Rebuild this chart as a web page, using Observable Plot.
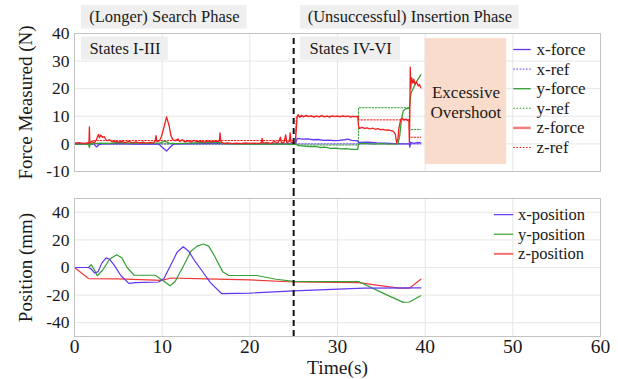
<!DOCTYPE html>
<html>
<head>
<meta charset="utf-8">
<script src="https://cdn.jsdelivr.net/npm/d3@7"></script>
<script src="https://cdn.jsdelivr.net/npm/@observablehq/plot@0.6"></script>
<style>
  html, body { margin: 0; padding: 0; background: #fff; }
  #wrap { position: relative; width: 618px; height: 379px; overflow: hidden; }
  #top, #bottom { position: absolute; left: 0; }
  #top { top: 0; }
  #bottom { top: 190px; }
  #wrap svg, #wrap svg text { font-family: 'Liberation Serif', 'Times New Roman', serif !important; }
</style>
</head>
<body>
<div id="wrap"><div id="top"></div><div id="bottom"></div></div>
<script>
// ---------- DATA (time in s, value) ----------
const xForce = [[0,0],[2.2,0],[2.5,-1.1],[2.8,-0.3],[3.2,0],[5,0.1],[7,-0.1],[9.6,0],[10.0,-1.2],[10.5,-2.6],[10.9,-1.2],[11.3,-0.1],[12,0],[16,0.1],[20,0],[25.2,0],
  [25.4,2.0],[26.0,1.7],[26.6,1.8],[27.2,1.5],[27.8,1.6],[28.4,1.3],[29,1.4],[29.6,1.2],[30.2,1.3],[30.8,1.5],[31.2,1.7],[31.6,1.3],[32.3,1.1],
  [32.4,0.5],[33.5,0.6],[34.5,0.4],[35.5,0.3],[36.5,0.1],[37.5,0],[38.2,0],[38.25,-1.2],[38.35,0.6],[38.7,0.2],[39.1,0.5],[39.5,0.4]];
const xRef = [[0,0],[39.5,0]];
const yForce = [[0,-0.2],[1.0,0],[1.6,-0.1],[1.7,-1.3],[1.8,0],[2.5,0.2],[3,0.3],[4,0.2],[5,0.5],[6,0.3],[7,0.4],[8,0.2],[9,0.3],[9.8,0.4],[10.3,1.0],[10.8,0.3],
  [11.5,0.1],[13,0.3],[15,0.5],[16.6,0.6],[16.8,0.1],[18,0],[20,-0.1],[22,0],[24,-0.1],[25.0,-0.2],[25.3,-0.1],[25.6,-0.6],[26.2,-0.8],[26.8,-1.0],[27.4,-0.9],
  [28.0,-1.3],[28.6,-1.2],[29.2,-1.6],[29.8,-1.5],[30.4,-1.8],[31.0,-1.7],[31.6,-2.0],[32.3,-2.0],[32.4,-0.2],[32.6,0.2],[33.4,0.1],[34.2,-0.1],[35,0.1],[35.8,-0.1],
  [36.9,0],[37.1,3],[37.3,9],[37.5,12.0],[37.8,12.7],[38.2,13.0],[38.3,16.5],[38.4,18.5],[38.7,20.5],[39.0,22.5],[39.3,24.0],[39.5,25.0]];
const yRef = [[0,0],[25.3,0],[25.3,-0.4],[32.4,-0.4],[32.4,13.1],[38.2,13.1],[38.2,5.2],[39.5,5.2]];
const zForce = [[0,0.3],[0.5,0.5],[1.0,0.2],[1.5,0.4],[1.65,0.3],[1.7,6.2],[1.75,0.5],[2.0,0.8],[2.3,0.5],[2.5,1.5],[2.65,2.8],[2.75,3.4],[2.85,2.2],[3.0,3.2],
  [3.2,2.4],[3.4,2.6],[3.6,1.4],[3.8,1.2],[4.0,1.5],[4.3,0.8],[4.6,1.0],[5.0,0.6],[5.4,0.9],[5.8,0.5],[6.2,0.9],[6.6,0.4],[7.0,0.7],[7.4,0.3],[7.8,0.6],[8.2,0.3],
  [8.6,0.5],[9.0,0.4],[9.2,1.0],[9.3,3.0],[9.4,0.8],[9.7,1.2],[9.9,2.5],[10.2,6.0],[10.5,9.8],[10.8,6.5],[11.0,3.0],[11.2,1.6],[11.5,1.2],[11.8,1.8],[12.0,0.9],
  [12.3,1.5],[12.6,0.7],[13.0,1.2],[13.3,0.6],[13.6,1.3],[14.0,0.8],[14.4,1.0],[14.8,0.6],[15.2,1.1],[15.6,0.7],[16.0,1.0],[16.4,0.9],[16.55,1.5],[16.6,4.0],
  [16.7,0.8],[17.0,0.2],[17.5,0.4],[18,0.1],[18.5,0.3],[19,0.1],[19.5,0.4],[20,0.2],[20.5,0.3],[21.0,0.2],[21.3,0.4],[21.4,2.0],[21.5,0.3],[22.0,0.5],[22.4,0.2],
  [22.8,0.8],[23.2,0.3],[23.5,2.4],[23.6,0.4],[23.9,0.6],[24.1,3.3],[24.2,0.5],[24.5,0.8],[24.6,4.0],[24.7,0.6],[25.0,0.4],[25.2,0.8],[25.4,9.8],[25.5,10.6],
  [25.7,9.6],[25.9,10.4],[26.1,9.8],[26.4,10.3],[26.7,9.9],[27.0,10.2],[27.3,9.7],[27.6,10.1],[27.9,9.8],[28.2,10.3],[28.5,9.8],[28.8,10.1],[29.1,9.7],[29.4,10.2],
  [29.7,9.9],[30.0,10.1],[30.3,9.8],[30.6,10.2],[30.9,9.9],[31.2,10.1],[31.5,9.7],[31.8,10.0],[32.1,9.8],[32.3,10.0],[32.4,6.5],[32.5,5.6],[32.8,6.0],[33.1,5.6],
  [33.4,5.8],[33.7,5.4],[34.0,5.7],[34.3,5.3],[34.6,5.5],[34.9,5.2],[35.2,5.3],[35.5,5.0],[35.8,5.1],[36.1,4.8],[36.4,4.5],[36.6,3.5],[36.75,0.3],[36.9,2.0],
  [37.0,5.5],[37.2,8.8],[37.4,9.3],[37.6,8.6],[37.8,9.0],[38.0,8.5],[38.15,8.8],[38.2,0.5],[38.25,10],[38.3,27.8],[38.35,20],[38.45,24],[38.6,22],[38.7,23.5],
  [38.85,21.5],[39.0,22.5],[39.2,21],[39.35,21.5],[39.5,20.3]];
const zRef = [[0,0],[2.0,0],[2.0,1.2],[25.2,1.2],[25.3,10],[32.4,10],[32.4,8.7],[38.2,8.7],[38.2,2.4],[39.5,2.4]];

const xPos = [[0,0],[1.6,0],[1.9,-1],[2.3,-4],[2.7,-3],[3.1,3],[3.6,7],[4.0,6],[4.6,1],[5.3,-6],[6.2,-11.5],[7,-11],[9.6,-10.5],[10.2,-8],[11,2],[11.7,11],
  [12.4,15],[13.0,12],[13.8,4],[14.5,-2],[15.5,-11],[16.8,-19],[20,-18.5],[25,-17],[33,-15],[39.5,-14.8]];
const yPos = [[0,0],[1.6,0],[1.9,2],[2.2,-1],[2.6,-6],[3.2,-2],[4.0,6],[4.8,9.2],[5.4,7],[6.0,0],[6.8,-5.6],[9.2,-5.6],[10.0,-9],[10.9,-13.3],[11.5,-10],
  [12.5,2],[13.3,12],[14.0,15.5],[14.7,17],[15.3,15.5],[16,8],[16.9,-3],[17.6,-5.8],[20.8,-5.8],[23,-8.5],[25,-10],[32.4,-10.2],[35,-18],[37.5,-25.3],[38.2,-25],[39.5,-20.5]];
const zPos = [[0,0],[1.6,-8],[5,-8.3],[10,-9.3],[11,-7.6],[15,-8.3],[20,-9],[25,-10.5],[32.4,-11],[37,-15],[38.2,-15],[39.5,-8.5]];

const forceTicks = [-10, 0, 10, 20, 30, 40];
const posTicks = [-40, -20, 0, 20, 40];
const timeTicks = [0, 10, 20, 30, 40, 50, 60];
const forceLegend = ["x-force", "x-ref", "y-force", "y-ref", "z-force", "z-ref"];
const posLegend = ["x-position", "y-position", "z-position"];
const phaseLabels = ["(Longer) Search Phase", "(Unsuccessful) Insertion Phase"];
const stateLabels = ["States I-III", "States IV-VI"];
const overshootLabel = "Excessive\nOvershoot";
const stateChange = 25;

// ---------- STYLE ----------
const BLUE = "#6236f2", GREEN = "#35a035", RED = "#f01e1e";
const FONT = "'Liberation Serif', 'Times New Roman', serif";
const GRID = "#e6e6e6";
const fx = d => d[0], fy = d => d[1];
const DOT = "1.6,1.6";
const TXT = {fontFamily: FONT, fill: "#1a1a1a"};
const fmt = d => String(d);

// ---------- TOP PANEL ----------
const legF = forceLegend.map((name, i) => ({name, y: 34.2 - i * 7.1, color: [BLUE, BLUE, GREEN, GREEN, RED, RED][i], dotted: i % 2 === 1}));
const topPlot = Plot.plot({
  width: 618, height: 190,
  marginLeft: 74, marginRight: 18, marginTop: 33, marginBottom: 19,
  x: {domain: [0, 60], axis: null},
  y: {domain: [-10, 40]},
  style: {fontFamily: FONT, background: "transparent", color: "#1a1a1a"},
  marks: [
    Plot.gridX(timeTicks.slice(1, -1), {stroke: GRID, strokeOpacity: 1}),
    Plot.gridY(forceTicks.slice(1, -1), {stroke: GRID, strokeOpacity: 1}),
    Plot.rect([0], {x1: 40, x2: 49.3, y1: -7.5, y2: 38.2, fill: "#f9dccb"}),
    Plot.text([overshootLabel], {...TXT, x: 44.65, y: 15.4, fontSize: 17, lineHeight: 1.2}),
    // phase & state boxes
    Plot.rect([0], {x1: 0.8, x2: 19.7, y1: 41.6, y2: 50.1, fill: "#efefef"}),
    Plot.rect([0], {x1: 25.8, x2: 50.7, y1: 41.6, y2: 50.1, fill: "#efefef"}),
    Plot.rect([0], {x1: 0.8, x2: 10.7, y1: 30.3, y2: 38.7, fill: "#efefef"}),
    Plot.rect([0], {x1: 25.8, x2: 37.2, y1: 30.3, y2: 38.7, fill: "#efefef"}),
    Plot.text(phaseLabels, {...TXT, x: [10.25, 38.25], y: 45.9, fontSize: 16.5}),
    Plot.text(stateLabels, {...TXT, x: [5.75, 31.5], y: 34.5, fontSize: 16.5}),
    // references
    Plot.line(xRef, {x: fx, y: fy, stroke: BLUE, strokeWidth: 1, strokeDasharray: DOT}),
    Plot.line(yRef, {x: fx, y: fy, stroke: GREEN, strokeWidth: 1, strokeDasharray: DOT}),
    Plot.line(zRef, {x: fx, y: fy, stroke: RED, strokeWidth: 1, strokeDasharray: DOT}),
    // forces
    Plot.line(xForce, {x: fx, y: fy, stroke: BLUE, strokeWidth: 1.3}),
    Plot.line(yForce, {x: fx, y: fy, stroke: GREEN, strokeWidth: 1.3}),
    Plot.line(zForce, {x: fx, y: fy, stroke: RED, strokeWidth: 1.3}),
    Plot.frame({stroke: "#c4c4c4"}),
    Plot.axisY(forceTicks, {tickSize: 0, tickPadding: 5, fontSize: 17.5, fontFamily: FONT, tickFormat: fmt, label: null}),
    Plot.text(["Force Measured (N)"], {...TXT, frameAnchor: "left", textAnchor: "middle", lineAnchor: "middle", dx: -49, rotate: -90, fontSize: 19}),
    // dashed state-change line
    Plot.ruleX([stateChange], {y1: 38.2, y2: -16.9, stroke: "#111", strokeWidth: 2, strokeDasharray: "6,4"}),
    // legend
    Plot.ruleY(legF.filter(d => !d.dotted), {y: "y", x1: 50.1, x2: 52.1, stroke: d => d.name === "z-force" ? "#f08080" : d.color, strokeWidth: d => d.name === "z-force" ? 2.5 : 1.3}),
    Plot.ruleY(legF.filter(d => d.dotted), {y: "y", x1: 50.1, x2: 52.1, stroke: "color", strokeWidth: 1, strokeDasharray: DOT}),
    Plot.text(legF, {...TXT, x: 52.7, y: "y", text: "name", textAnchor: "start", fontSize: 17})
  ]
});
document.getElementById("top").append(topPlot);

// ---------- BOTTOM PANEL ----------
const legP = posLegend.map((name, i) => ({name, y: 38.3 - i * 14.2, color: [BLUE, GREEN, "#f07070"][i]}));
const botPlot = Plot.plot({
  width: 618, height: 189,
  marginLeft: 74, marginRight: 18, marginTop: 8, marginBottom: 43,
  x: {domain: [0, 60]},
  y: {domain: [-50, 50]},
  style: {fontFamily: FONT, background: "transparent", color: "#1a1a1a"},
  marks: [
    Plot.gridX(timeTicks.slice(1, -1), {stroke: GRID, strokeOpacity: 1}),
    Plot.gridY(posTicks, {stroke: GRID, strokeOpacity: 1}),
    Plot.line(zPos, {x: fx, y: fy, stroke: "#f03838", strokeWidth: 1.2}),
    Plot.line(yPos, {x: fx, y: fy, stroke: GREEN, strokeWidth: 1.2}),
    Plot.line(xPos, {x: fx, y: fy, stroke: BLUE, strokeWidth: 1.2}),
    Plot.frame({stroke: "#c4c4c4"}),
    Plot.axisY(posTicks, {tickSize: 0, tickPadding: 5, fontSize: 17.5, fontFamily: FONT, tickFormat: fmt, label: null}),
    Plot.axisX(timeTicks, {tickSize: 0, tickPadding: 3, fontSize: 19.5, fontFamily: FONT, tickFormat: fmt, label: null}),
    Plot.text(["Position (mm)"], {...TXT, frameAnchor: "left", textAnchor: "middle", lineAnchor: "middle", dx: -49, rotate: -90, fontSize: 19}),
    Plot.text(["Time(s)"], {...TXT, frameAnchor: "bottom", lineAnchor: "middle", dy: 31, fontSize: 19.5}),
    Plot.ruleX([stateChange], {y1: 55.8, y2: -52.9, stroke: "#111", strokeWidth: 2, strokeDasharray: "6,4"}),
    Plot.ruleY(legP, {y: "y", x1: 47.9, x2: 50.1, stroke: "color", strokeWidth: d => d.name === "z-position" ? 2 : 1.2}),
    Plot.text(legP, {...TXT, x: 50.6, y: "y", text: "name", textAnchor: "start", fontSize: 16.5})
  ]
});
document.getElementById("bottom").append(botPlot);
</script>
</body>
</html>
